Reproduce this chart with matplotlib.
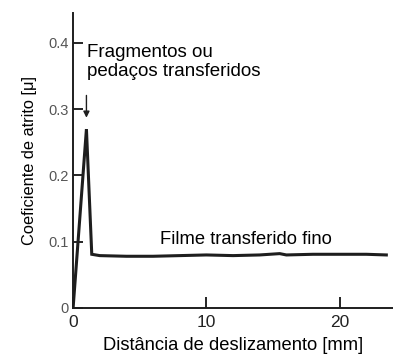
import matplotlib
matplotlib.use("Agg")
import matplotlib.pyplot as plt

plt.rcParams['font.family'] = ['Liberation Sans', 'DejaVu Sans']

# friction trace: sharp peak from transferred fragments, then a thin transferred film
distance = [0.0, 1.0, 1.4, 2.0, 4.0, 6.0, 8.0, 10.0, 12.0, 14.0, 15.5, 16.0, 18.0, 20.0, 22.0, 23.5]
friction = [0.0, 0.27, 0.081, 0.079, 0.078, 0.078, 0.079, 0.080, 0.079, 0.080, 0.082, 0.080, 0.081, 0.081, 0.081, 0.080]

xticks = [0, 10, 20]
yticks = [0, 0.1, 0.2, 0.3, 0.4]
ytick_labels = ['0', '0.1', '0.2', '0.3', '0.4']

fig = plt.figure(figsize=(3.93, 3.56), dpi=100)
ax = fig.add_axes([0.186, 0.135, 0.814, 0.828])

ax.plot(distance, friction, color='#1e1e1e', lw=2.2, solid_joinstyle='miter')

ax.set_xlim(0, 24.0)
ax.set_ylim(0, 0.445)
ax.set_xticks(xticks)
ax.set_yticks(yticks)
ax.set_yticklabels(ytick_labels)
ax.tick_params(axis='x', direction='in', length=8, width=1.2, labelsize=12.5,
               labelcolor='#222222', pad=5)
ax.tick_params(axis='y', direction='in', length=7, width=1.2, labelsize=10.5,
               labelcolor='#555555', pad=3)

for side in ('top', 'right'):
    ax.spines[side].set_visible(False)
for side in ('left', 'bottom'):
    ax.spines[side].set_linewidth(1.4)
    ax.spines[side].set_color('#1e1e1e')

ax.set_xlabel('Distância de deslizamento [mm]', fontsize=13.2, labelpad=5)
ax.set_ylabel('Coeficiente de atrito [μ]', fontsize=11.8, labelpad=8)

ax.annotate('', xy=(1.0, 0.283), xytext=(1.0, 0.325),
            arrowprops=dict(arrowstyle='-|>', color='#1e1e1e', lw=1.0,
                            mutation_scale=9))
ax.text(1.05, 0.371, 'Fragmentos ou\npedaços transferidos', fontsize=13.5,
        ha='left', va='center', linespacing=1.15)
ax.text(6.55, 0.104, 'Filme transferido fino', fontsize=13.2, ha='left', va='center')

fig.savefig('out.png', dpi=100)
